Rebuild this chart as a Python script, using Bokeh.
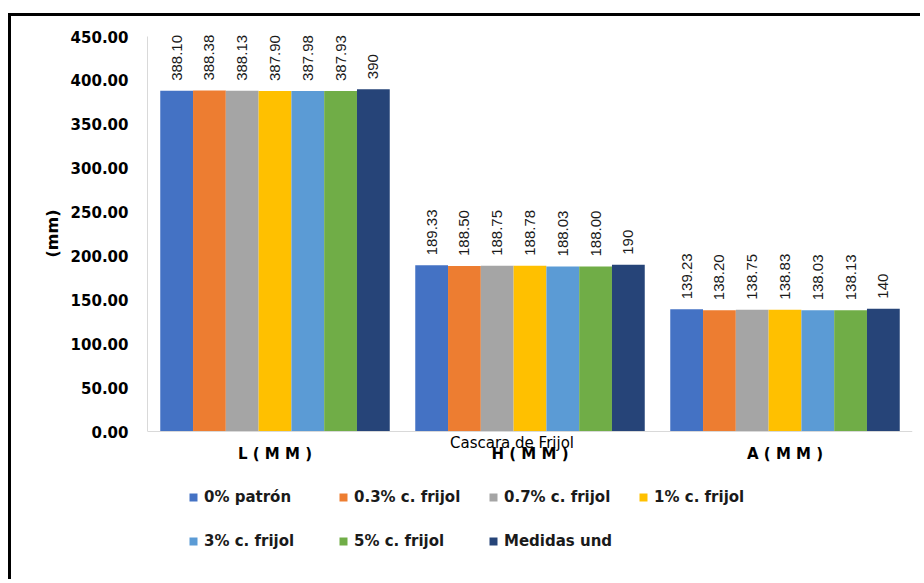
import math
from bokeh.plotting import figure
from bokeh.models import (FactorRange, Range1d, ColumnDataSource, Legend, LegendItem,
                          FixedTicker, NumeralTickFormatter, Span, Title)
from bokeh.transform import dodge
from bokeh.core.properties import value
from bokeh.embed import file_html
from bokeh.resources import INLINE

# ---- data ----
categories = ["L ( M M )", "H ( M M )", "A ( M M )"]
x_title = "Cascara de Frijol"
y_title = "(mm)"
series_names = ["0% patrón", "0.3% c. frijol", "0.7% c. frijol", "1% c. frijol",
                "3% c. frijol", "5% c. frijol", "Medidas und"]
s0 = [388.10, 189.33, 139.23]
s1 = [388.38, 188.50, 138.20]
s2 = [388.13, 188.75, 138.75]
s3 = [387.90, 188.78, 138.83]
s4 = [387.98, 188.03, 138.03]
s5 = [387.93, 188.00, 138.13]
s6 = [390, 190, 140]
series_values = [s0, s1, s2, s3, s4, s5, s6]
label_decimals = [2, 2, 2, 2, 2, 2, 0]
y_ticks = [0, 50, 100, 150, 200, 250, 300, 350, 400, 450]
colors = ["#4472C4", "#ED7D31", "#A5A5A5", "#FFC000", "#5B9BD5", "#70AD47", "#264478"]

group_width = 0.9
bar_w = group_width / len(series_names)

# frame spans the whole lower area so that category labels, axis title and
# legend (drawn under the zero line) are not clipped
p = figure(
    width=912, height=566,
    x_range=FactorRange(*categories, range_padding=0),
    y_range=Range1d(-172.0, 461.4),
    output_backend="svg", toolbar_location=None,
    min_border_left=136, min_border_right=11, min_border_top=10, min_border_bottom=0,
    margin=(13, 0, 0, 8),
    styles={"border-top": "3px solid black", "border-left": "3px solid black"},
)
p.outline_line_color = None
p.xgrid.grid_line_color = None
p.ygrid.grid_line_color = None
p.background_fill_color = "white"
p.border_fill_color = "white"
p.xaxis.visible = False

FONT = "DejaVu Sans"
legend_items = []
for i, (name, vals, col, dec) in enumerate(zip(series_names, series_values, colors, label_decimals)):
    off = (i - (len(series_names) - 1) / 2) * bar_w
    src = ColumnDataSource(dict(x=categories, top=vals,
                                lab=[f"{v:.{dec}f}" for v in vals]))
    r = p.vbar(x=dodge("x", off, range=p.x_range), top="top", width=bar_w,
               source=src, fill_color=col, line_color=None)
    p.text(x=dodge("x", off, range=p.x_range), y="top", text="lab", source=src,
           angle=math.pi / 2, text_align="left", text_baseline="middle", y_offset=-10,
           text_font=value("Liberation Sans"), text_font_size="15px", text_color="#1a1a1a")
    legend_items.append(LegendItem(label=name, renderers=[r]))

# baseline (category axis line)
p.add_layout(Span(location=0, dimension="width", line_color="#D9D9D9", line_width=1))

# category labels under the baseline
p.text(x=categories, y=[0] * len(categories), text=categories, y_offset=22,
       text_align="center", text_baseline="middle",
       text_font=value(FONT), text_font_style="bold", text_font_size="15px",
       text_color="#000000")
# x axis title, overlapping the middle category label as in the original
p.text(x=[categories[1]], y=[0], text=[x_title], x_offset=-18, y_offset=11,
       text_align="center", text_baseline="middle",
       text_font=value(FONT), text_font_size="15px", text_color="#000000")

# y axis
ya = p.yaxis[0]
ya.ticker = FixedTicker(ticks=y_ticks)
ya.formatter = NumeralTickFormatter(format="0.00")
ya.bounds = (0, 450)
ya.axis_line_color = "#D9D9D9"
ya.major_tick_line_color = None
ya.minor_tick_line_color = None
ya.major_label_standoff = 13
ya.major_label_text_font = FONT
ya.major_label_text_font_style = "bold"
ya.major_label_text_font_size = "15px"
ya.major_label_text_color = "#000000"

# y axis title, centred on the value axis (not on the whole frame)
p.add_layout(Title(text=y_title, align="right", offset=183, standoff=12,
                   text_font=FONT, text_font_style="bold", text_font_size="16px",
                   text_color="#000000"), "left")

legend = Legend(items=legend_items, orientation="horizontal", ncols=4,
                location=(41, 32), margin=0, padding=0, spacing=26,
                glyph_width=10, glyph_height=10, label_standoff=6,
                label_width=108, label_height=18,
                label_text_font=FONT, label_text_font_style="bold",
                label_text_font_size="15px", label_text_color="#1a1a1a",
                border_line_color=None, background_fill_alpha=0)
p.add_layout(legend, "center")

open("out.html", "w").write(file_html(p, INLINE))
